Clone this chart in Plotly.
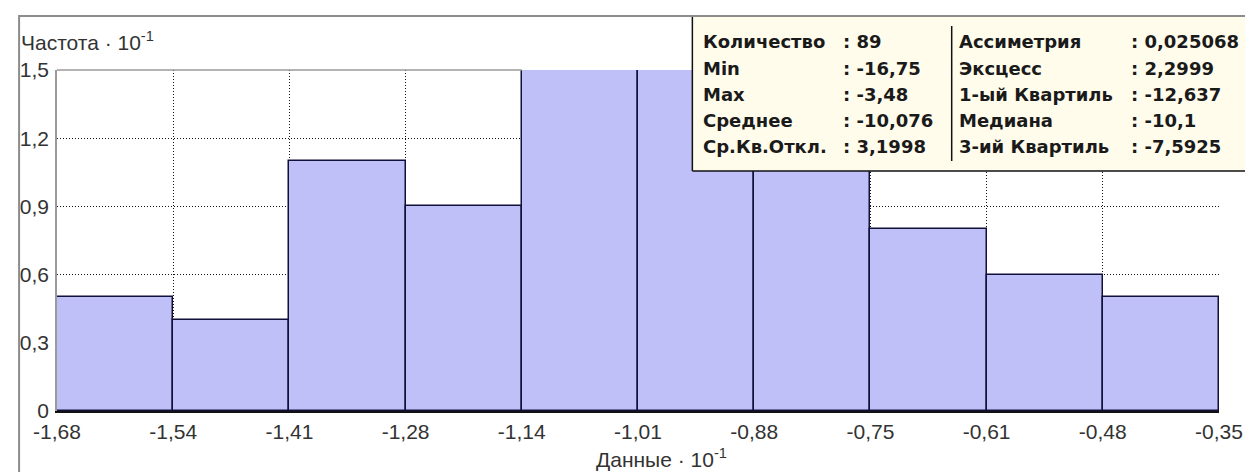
import numpy as np
import plotly.graph_objects as go

# ---------------- data ----------------
x_min = -1.675          # Min  -16,75 * 10^-1
x_max = -0.348          # Max  -3,48  * 10^-1
freq = [0.5, 0.4, 1.1, 0.9, 1.5, 1.5, 1.1, 0.8, 0.6, 0.5]
x_tick_labels = ["-1,68", "-1,54", "-1,41", "-1,28", "-1,14", "-1,01",
                 "-0,88", "-0,75", "-0,61", "-0,48", "-0,35"]
y_ticks = [0, 0.3, 0.6, 0.9, 1.2, 1.5]
y_tick_labels = ["0", "0,3", "0,6", "0,9", "1,2", "1,5"]

stats_left_names = ["Количество", "Min", "Max", "Среднее", "Ср.Кв.Откл."]
stats_left_values = ["89", "-16,75", "-3,48", "-10,076", "3,1998"]
stats_right_names = ["Ассиметрия", "Эксцесс", "1-ый Квартиль", "Медиана", "3-ий Квартиль"]
stats_right_values = ["0,025068", "2,2999", "-12,637", "-10,1", "-7,5925"]

# ---------------- geometry ----------------
W, H = 1253, 472
L, R, T, B = 46, 1211, 62, 403

def px(x):
    return (x - L) / (R - L)

def py(y):
    return (B - y) / (B - T)

n = len(freq)
edges = np.linspace(x_min, x_max, n + 1)
centers = (edges[:-1] + edges[1:]) / 2
bw = edges[1] - edges[0]

fig = go.Figure()
fig.add_trace(go.Bar(
    x=centers, y=freq, width=bw,
    marker=dict(color="#c0c0f8", line=dict(color="#10103a", width=1.5)),
    hoverinfo="skip",
))

tick_font = dict(family="Liberation Sans, Arial, sans-serif", size=21, color="#333333")

fig.update_xaxes(
    range=[x_min, x_max], tickvals=list(edges), ticktext=x_tick_labels,
    showgrid=True, griddash="1px,2px", gridcolor="#111111", gridwidth=1,
    showline=True, linecolor="#111111", linewidth=1.5,
    ticks="outside", ticklen=1, tickcolor="rgba(0,0,0,0)",
    tickfont=tick_font, zeroline=False, fixedrange=True,
)
fig.update_yaxes(
    range=[0, 1.5], tickvals=y_ticks, ticktext=y_tick_labels,
    showgrid=True, griddash="1px,2px", gridcolor="#111111", gridwidth=1,
    showline=True, linecolor="#9a9a9a", linewidth=1.5,
    ticks="outside", ticklen=2, tickcolor="rgba(0,0,0,0)",
    tickfont=tick_font, zeroline=False, fixedrange=True,
)

shapes = []
# top border of plot area (solid grey), left of the tall bars
shapes.append(dict(type="line", xref="x", yref="paper", x0=x_min, x1=edges[4], y0=1, y1=1,
                   line=dict(color="#9a9a9a", width=1.5), layer="above"))
# statistics box
bx0, bx1, by0, by1 = 683, 1249, 9, 163
shapes.append(dict(type="rect", xref="paper", yref="paper",
                   x0=px(bx0), x1=px(bx1), y0=py(by1), y1=py(by0),
                   fillcolor="#fffcec", line=dict(width=0), layer="above"))
shapes.append(dict(type="line", xref="paper", yref="paper",
                   x0=px(bx0), x1=px(bx0), y0=py(by1), y1=py(by0),
                   line=dict(color="#111111", width=1.5), layer="above"))
shapes.append(dict(type="line", xref="paper", yref="paper",
                   x0=px(bx0), x1=px(bx1), y0=py(by1), y1=py(by1),
                   line=dict(color="#111111", width=1.5), layer="above"))
shapes.append(dict(type="line", xref="paper", yref="paper",
                   x0=px(943), x1=px(943), y0=py(153), y1=py(18),
                   line=dict(color="#111111", width=1.5), layer="above"))
# outer frame
shapes.append(dict(type="rect", xref="paper", yref="paper",
                   x0=px(8), x1=px(1249), y0=py(470), y1=py(8),
                   line=dict(color="#8c8c8c", width=2), fillcolor="rgba(0,0,0,0)",
                   layer="above"))

annotations = []
stat_font = dict(family="DejaVu Sans, Verdana, sans-serif", size=18, color="#1a1a1a")
row_y = [33, 60, 86, 112, 138]
for i in range(5):
    annotations.append(dict(xref="paper", yref="paper", x=px(692), y=py(row_y[i]),
                            xanchor="left", yanchor="middle", showarrow=False,
                            text="<b>" + stats_left_names[i] + "</b>", font=stat_font))
    annotations.append(dict(xref="paper", yref="paper", x=px(832), y=py(row_y[i]),
                            xanchor="left", yanchor="middle", showarrow=False,
                            text="<b>: " + stats_left_values[i] + "</b>", font=stat_font))
    annotations.append(dict(xref="paper", yref="paper", x=px(948), y=py(row_y[i]),
                            xanchor="left", yanchor="middle", showarrow=False,
                            text="<b>" + stats_right_names[i] + "</b>", font=stat_font))
    annotations.append(dict(xref="paper", yref="paper", x=px(1121), y=py(row_y[i]),
                            xanchor="left", yanchor="middle", showarrow=False,
                            text="<b>: " + stats_right_values[i] + "</b>", font=stat_font))

title_font = dict(family="Liberation Sans, Arial, sans-serif", size=21, color="#333333")
annotations.append(dict(xref="paper", yref="paper", x=px(8), y=py(33),
                        xanchor="left", yanchor="middle", showarrow=False,
                        text="Частота · 10<sup>-1</sup>", font=title_font))
annotations.append(dict(xref="paper", yref="paper", x=px(652), y=py(450),
                        xanchor="center", yanchor="middle", showarrow=False,
                        text="Данные · 10<sup>-1</sup>", font=title_font))

fig.update_layout(
    width=W, height=H,
    margin=dict(l=L, r=W - R, t=T, b=H - B),
    paper_bgcolor="white", plot_bgcolor="white",
    showlegend=False, bargap=0,
    shapes=shapes, annotations=annotations,
)

fig.write_html("out.html", config={"displayModeBar": False})
